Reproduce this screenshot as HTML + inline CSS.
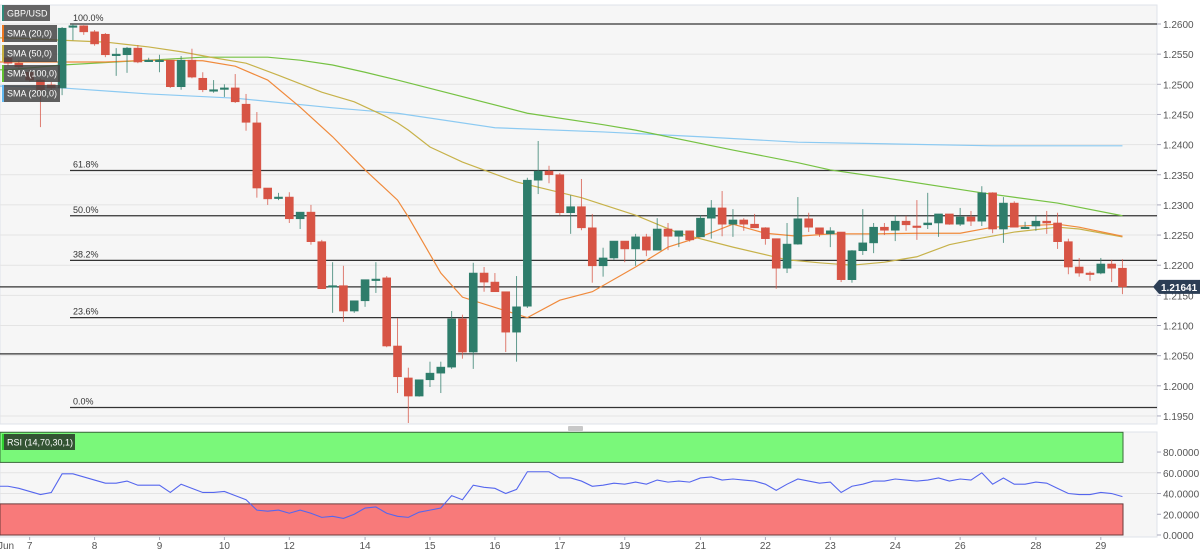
<!DOCTYPE html>
<html><head><meta charset="utf-8"><style>
html,body{margin:0;padding:0;background:#fff;}
svg{display:block;font-family:"Liberation Sans",sans-serif;}
</style></head><body>
<svg id="chart" width="1200" height="555" viewBox="0 0 1200 555">
<rect x="0" y="0" width="1200" height="555" fill="#ffffff"/>
<rect x="0" y="5" width="1157" height="419" fill="#f6f6f6" stroke="#dfe3ea"/>
<rect x="0" y="432" width="1157" height="105" fill="#f6f6f6" stroke="#dfe3ea"/>
<g id="grid"></g>
<g id="fib"></g>
<g id="sma"></g>
<g id="candles"></g>
<g id="rsi"></g>
<g id="axes"></g>
<rect x="568" y="426" width="15" height="5" rx="1" fill="#c8c8c8"/>
<g><rect x="2" y="5" width="48" height="16" fill="#555" opacity="0.9"/><rect x="2" y="5" width="2" height="16" fill="#2e8b7a"/><text x="7" y="16.5" font-size="9" fill="#fff">GBP/USD</text></g>
<g><rect x="2" y="25" width="55" height="17" fill="#444" opacity="0.85"/><rect x="2" y="25" width="2" height="17" fill="#f07820"/><text x="7" y="36.5" font-size="9" fill="#fff">SMA (20,0)</text></g>
<g><rect x="2" y="45" width="55" height="17" fill="#444" opacity="0.85"/><rect x="2" y="45" width="2" height="17" fill="#c8b040"/><text x="7" y="56.5" font-size="9" fill="#fff">SMA (50,0)</text></g>
<g><rect x="2" y="65" width="58" height="17" fill="#444" opacity="0.85"/><rect x="2" y="65" width="2" height="17" fill="#60c030"/><text x="7" y="76.5" font-size="9" fill="#fff">SMA (100,0)</text></g>
<g><rect x="2" y="85" width="58" height="17" fill="#444" opacity="0.85"/><rect x="2" y="85" width="2" height="17" fill="#60b8f0"/><text x="7" y="96.5" font-size="9" fill="#fff">SMA (200,0)</text></g>
<g><rect x="2" y="434" width="73" height="16" fill="#2f4a2f" opacity="0.95"/><rect x="2" y="434" width="2" height="16" fill="#30d030"/><text x="7" y="445.5" font-size="9" fill="#fff">RSI (14,70,30,1)</text></g>
</svg>
<script>
const NS='http://www.w3.org/2000/svg';
const opens=[1.2544,1.2535,1.2520,1.2507,1.2499,1.2494,1.2595,1.2597,1.2587,1.2583,1.2549,1.2549,1.2560,1.2539,1.2539,1.2540,1.2496,1.2540,1.2510,1.2489,1.2492,1.2494,1.2467,1.2436,1.2328,1.2311,1.2313,1.2277,1.2288,1.2239,1.2164,1.2166,1.2124,1.2141,1.2176,1.2179,1.2066,1.2013,1.1983,1.2010,1.2021,1.2031,1.2111,1.2056,1.2187,1.2172,1.2156,1.2089,1.2132,1.2341,1.2356,1.2350,1.2287,1.2297,1.2262,1.2199,1.2212,1.2240,1.2227,1.2247,1.2225,1.2260,1.2248,1.2257,1.2247,1.2278,1.2295,1.2268,1.2275,1.2268,1.2262,1.2244,1.2195,1.2235,1.2277,1.2262,1.2252,1.2255,1.2176,1.2224,1.2237,1.2263,1.2258,1.2273,1.2265,1.2267,1.2270,1.2285,1.2268,1.2280,1.2273,1.2320,1.2260,1.2303,1.2262,1.2265,1.2273,1.2270,1.2239,1.2197,1.2187,1.2187,1.2202,1.2195];
const closes=[1.2535,1.2529,1.2507,1.2491,1.2494,1.2593,1.2597,1.2587,1.2567,1.2549,1.2550,1.2560,1.2537,1.2540,1.2540,1.2496,1.2540,1.2512,1.2491,1.2491,1.2494,1.2471,1.2437,1.2328,1.2310,1.2313,1.2277,1.2288,1.2239,1.2161,1.2166,1.2124,1.2141,1.2176,1.2177,1.2066,1.2015,1.1983,1.2010,1.2021,1.2031,1.2111,1.2056,1.2187,1.2172,1.2156,1.2089,1.2131,1.2341,1.2356,1.2350,1.2287,1.2297,1.2262,1.2199,1.2212,1.2240,1.2227,1.2247,1.2225,1.2260,1.2248,1.2257,1.2242,1.2278,1.2295,1.2268,1.2275,1.2268,1.2262,1.2244,1.2195,1.2235,1.2277,1.2263,1.2252,1.2257,1.2176,1.2224,1.2237,1.2263,1.2258,1.2273,1.2267,1.2263,1.2270,1.2285,1.2268,1.2280,1.2273,1.2320,1.2260,1.2303,1.2263,1.2263,1.2273,1.2270,1.2239,1.2197,1.2187,1.2185,1.2202,1.2195,1.21641];
const highs=[1.2549,1.2540,1.2524,1.2510,1.2504,1.2595,1.2600,1.2598,1.2590,1.2585,1.2560,1.2562,1.2565,1.2544,1.2549,1.2540,1.2547,1.2559,1.2520,1.2507,1.2500,1.2517,1.2484,1.2454,1.2328,1.2320,1.2321,1.2288,1.2300,1.2242,1.2205,1.2199,1.2141,1.2176,1.2205,1.2182,1.2112,1.2030,1.2010,1.2040,1.2040,1.2124,1.2118,1.2204,1.2197,1.2187,1.2156,1.2182,1.2345,1.2406,1.2365,1.2353,1.2316,1.2343,1.2285,1.2229,1.2240,1.2240,1.2252,1.2252,1.2278,1.2270,1.2257,1.2257,1.2283,1.2308,1.2323,1.2293,1.2278,1.2285,1.2263,1.2244,1.2270,1.2313,1.2287,1.2262,1.2263,1.2255,1.2225,1.2293,1.2270,1.2270,1.2283,1.2282,1.2308,1.2320,1.2285,1.2285,1.2295,1.2290,1.2331,1.2321,1.2313,1.2306,1.2272,1.2282,1.2290,1.2287,1.2244,1.2212,1.2190,1.2212,1.2209,1.2210];
const lows=[1.2530,1.2525,1.2504,1.2429,1.2487,1.2482,1.2573,1.2582,1.2564,1.2545,1.2514,1.2519,1.2535,1.2537,1.2520,1.2494,1.2491,1.2510,1.2487,1.2486,1.2479,1.2469,1.2423,1.2312,1.2300,1.2308,1.2270,1.2260,1.2234,1.2161,1.2121,1.2106,1.2121,1.2131,1.2154,1.2064,1.1988,1.1935,1.1982,1.1998,1.1988,1.2028,1.2045,1.2028,1.2156,1.2156,1.2056,1.2040,1.2129,1.2318,1.2336,1.2283,1.2252,1.2258,1.2171,1.2181,1.2209,1.2205,1.2199,1.2215,1.2225,1.2225,1.2230,1.2239,1.2247,1.2244,1.2248,1.2247,1.2257,1.2262,1.2234,1.2161,1.2187,1.2234,1.2255,1.2247,1.2230,1.2172,1.2171,1.2217,1.2220,1.2250,1.2240,1.2257,1.2242,1.2260,1.2247,1.2267,1.2265,1.2265,1.2265,1.2253,1.2237,1.2263,1.2260,1.2257,1.2252,1.2227,1.2185,1.2181,1.2174,1.2185,1.2172,1.2152];
const rsiValues=[47,45,42,39,41,59,59,56,53,50,50,52,48,48,48,41,49,45,41,41,42,38,34,24,23,24,21,24,21,17,18,16,20,26,27,21,18,17,22,24,26,38,34,48,46,45,40,44,61,61,61,55,55,52,47,48,50,49,51,49,53,51,52,51,55,56,53,54,53,52,49,43,49,54,52,50,51,41,47,49,52,52,54,53,52,53,55,52,54,53,60,49,55,49,49,51,50,45,40,39,39,41,40,37];
const sma20Idx=[0,9,13,18,21,24,27,30,33,36,37,40,42,48,51,54,58,61,64,67,70,73,76,80,84,88,91,96,97,99,103];
const sma20Val=[1.2537,1.2537,1.2540,1.2539,1.2530,1.2507,1.2462,1.2413,1.2358,1.2308,1.2280,1.2187,1.2147,1.2113,1.2142,1.2156,1.2197,1.2230,1.2247,1.2268,1.2253,1.2248,1.2252,1.2252,1.2253,1.2253,1.2263,1.2267,1.2268,1.2263,1.2248];
const sma50Idx=[0,9,13,16,19,22,25,29,32,35,36,37,39,42,47,53,58,62,67,72,75,78,81,84,87,90,93,97,99,103];
const sma50Val=[1.2577,1.2570,1.2562,1.2554,1.2544,1.2535,1.2515,1.2487,1.2471,1.2446,1.2436,1.2424,1.2396,1.2371,1.2338,1.2312,1.2283,1.2253,1.2230,1.2209,1.2204,1.2200,1.2205,1.2214,1.2234,1.2245,1.2255,1.2263,1.2260,1.2247];
const sma100Idx=[0,5,13,18,24,27,30,33,36,48,55,58,67,73,76,81,90,97,103];
const sma100Val=[1.2524,1.2532,1.2540,1.2545,1.2545,1.2540,1.2532,1.2520,1.2507,1.2452,1.2433,1.2424,1.2391,1.2370,1.2358,1.2345,1.2320,1.2303,1.2282];
const sma200Idx=[0,5,13,21,30,36,45,55,64,73,82,91,103];
const sma200Val=[1.2497,1.2494,1.2484,1.2477,1.2461,1.2452,1.2428,1.2421,1.2413,1.2404,1.2401,1.2398,1.2398];
const priceTicks=[1.2600,1.2550,1.2500,1.2450,1.2400,1.2350,1.2300,1.2250,1.2200,1.2150,1.2100,1.2050,1.2000,1.1950];
const fibLabels=['100.0%','61.8%','50.0%','38.2%','23.6%','0.0%'];
const fibLevels=[1.2600,1.2357,1.2282,1.2208,1.2113,1.1964];
const extraLines=[1.21641,1.2053];
const rsiTicks=[80,60,40,20,0];
const dayLabels=['7','8','9','10','12','14','15','16','17','19','21','22','23','24','26','28','29'];
const dayIdx=[2,8,14,20,26,33,39,45,51,57,64,70,76,82,88,95,101];
const lastPrice=1.21641;

const X=i=>8+i*10.82;
const Y=p=>24+(1.26-p)*6030;
const RY=v=>535-v*1.037;
function mk(tag,attrs,parent){const e=document.createElementNS(NS,tag);for(const k in attrs)e.setAttribute(k,attrs[k]);parent.appendChild(e);return e;}
const grid=document.getElementById('grid'),fib=document.getElementById('fib'),sma=document.getElementById('sma'),cg=document.getElementById('candles'),rg=document.getElementById('rsi'),ax=document.getElementById('axes');

priceTicks.forEach(p=>{
  const l=mk('line',{x1:0,x2:1157,y1:Y(p),y2:Y(p),stroke:'#e4e4e4','stroke-width':1},grid);
  
  
  const t=mk('text',{x:1163,y:Y(p)+4,'font-size':10,fill:'#555'},ax);
  t.textContent=p.toFixed(4);
  
  
  mk('line',{x1:1157,x2:1161,y1:Y(p),y2:Y(p),stroke:'#aab'},ax);
});
fibLevels.forEach((p,k)=>{
  const l=mk('line',{x1:70,x2:1157,y1:Y(p),y2:Y(p),stroke:'#333','stroke-width':1.2},fib);
  
  
  const t=mk('text',{x:73,y:Y(p)-3,'font-size':9,fill:'#333'},fib);
  t.textContent=fibLabels[k];
  
  
});
extraLines.forEach(p=>{
  const l=mk('line',{x1:0,x2:1157,y1:Y(p),y2:Y(p),stroke:'#333','stroke-width':1.2},fib);
  
  
});
function drawSma(idx,val,color,name){
  const pts=idx.map((i,k)=>X(i)+','+Y(val[k]));
  pts.unshift('0,'+Y(val[0]));
  const pl=mk('polyline',{points:pts.join(' '),fill:'none',stroke:color,'stroke-width':1.2},sma);
  
  
}
drawSma(sma200Idx,sma200Val,'#8ccaf2','sma-200-line');
drawSma(sma100Idx,sma100Val,'#76c243','sma-100-line');
drawSma(sma50Idx,sma50Val,'#c7b24a','sma-50-line');
drawSma(sma20Idx,sma20Val,'#f08a3c','sma-20-line');

opens.forEach((o,i)=>{
  const c=closes[i],up=c>=o,col=up?'#2e7d6b':'#d75445';
  const g=mk('g',{},cg);
  
  
  mk('line',{x1:X(i),x2:X(i),y1:Y(highs[i]),y2:Math.min(Y(lows[i]),423),stroke:col,'stroke-width':1,opacity:0.75},g);
  const top=Y(Math.max(o,c)),h=Math.max(1.5,Math.abs(Y(o)-Y(c)));
  mk('rect',{x:X(i)-4,y:top,width:8,height:h,fill:col,stroke:col,'stroke-width':0.6},g);
});

const gb=mk('rect',{x:0,y:RY(100)+1,width:1123,height:RY(70)-RY(100)-1,fill:'#7af87a',stroke:'#3b6b3b','stroke-width':1},rg);


const rb=mk('rect',{x:0,y:RY(30),width:1123,height:RY(0)-RY(30),fill:'#f87a7a',stroke:'#6b3b3b','stroke-width':1},rg);


rsiTicks.forEach(v=>{
  if(v>0&&v<70&&v>30){const gl=mk('line',{x1:0,x2:1157,y1:RY(v),y2:RY(v),stroke:'#e4e4e4'},grid);}
  const t=mk('text',{x:1163,y:RY(v)+4,'font-size':10,fill:'#555'},ax);
  t.textContent=v.toFixed(4);
  
  
  mk('line',{x1:1157,x2:1161,y1:RY(v),y2:RY(v),stroke:'#aab'},ax);
});
const rl=mk('polyline',{points:['0,'+RY(rsiValues[0])].concat(rsiValues.map((v,i)=>X(i)+','+RY(v))).join(' '),fill:'none',stroke:'#5566ee','stroke-width':1.1},rg);



const jt=mk('text',{x:-2,y:549,'font-size':10,fill:'#555'},ax);
jt.textContent='Jun';


dayLabels.forEach((d,k)=>{
  const x=X(dayIdx[k]);
  mk('line',{x1:x,x2:x,y1:537,y2:540,stroke:'#aab'},ax);
  const t=mk('text',{x:x,y:549,'font-size':10,fill:'#555','text-anchor':'middle'},ax);
  t.textContent=d;
  
  
});
const pg=mk('g',{},ax);


const py=Y(lastPrice);
mk('path',{d:`M1153 ${py} L1159 ${py-7} L1200 ${py-7} L1200 ${py+7} L1159 ${py+7} Z`,fill:'#2c3e55'},pg);
const pt=mk('text',{x:1161,y:py+4,'font-size':10,'font-weight':'bold',fill:'#fff'},pg);
pt.textContent=lastPrice.toFixed(5);
</script>
</body></html>
